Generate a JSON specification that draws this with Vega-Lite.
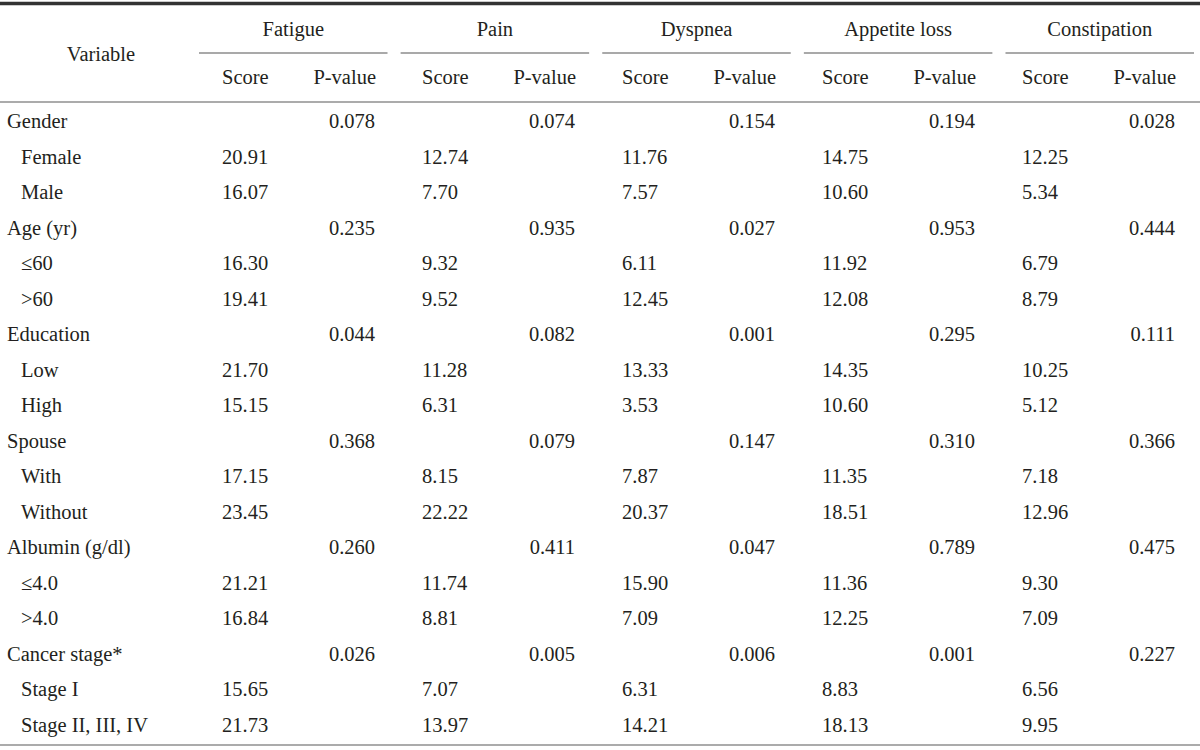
{
  "$schema": "https://vega.github.io/schema/vega-lite/v6.json",
  "width": 1200,
  "height": 750,
  "padding": 0,
  "autosize": {"type": "none"},
  "background": "#ffffff",
  "config": {
    "view": {"stroke": null},
    "axis": {"disable": true},
    "text": {"font": "Liberation Serif", "fontSize": 20.5, "color": "#231f20", "baseline": "middle"}
  },
  "datasets": {
    "tbl": [
      {"v": "Gender", "lvl": "h", "F_p": "0.078", "P_p": "0.074", "D_p": "0.154", "A_p": "0.194", "C_p": "0.028"},
      {"v": "Female", "lvl": "s", "F_s": "20.91", "P_s": "12.74", "D_s": "11.76", "A_s": "14.75", "C_s": "12.25"},
      {"v": "Male", "lvl": "s", "F_s": "16.07", "P_s": "7.70", "D_s": "7.57", "A_s": "10.60", "C_s": "5.34"},
      {"v": "Age (yr)", "lvl": "h", "F_p": "0.235", "P_p": "0.935", "D_p": "0.027", "A_p": "0.953", "C_p": "0.444"},
      {"v": "≤60", "lvl": "s", "F_s": "16.30", "P_s": "9.32", "D_s": "6.11", "A_s": "11.92", "C_s": "6.79"},
      {"v": ">60", "lvl": "s", "F_s": "19.41", "P_s": "9.52", "D_s": "12.45", "A_s": "12.08", "C_s": "8.79"},
      {"v": "Education", "lvl": "h", "F_p": "0.044", "P_p": "0.082", "D_p": "0.001", "A_p": "0.295", "C_p": "0.111"},
      {"v": "Low", "lvl": "s", "F_s": "21.70", "P_s": "11.28", "D_s": "13.33", "A_s": "14.35", "C_s": "10.25"},
      {"v": "High", "lvl": "s", "F_s": "15.15", "P_s": "6.31", "D_s": "3.53", "A_s": "10.60", "C_s": "5.12"},
      {"v": "Spouse", "lvl": "h", "F_p": "0.368", "P_p": "0.079", "D_p": "0.147", "A_p": "0.310", "C_p": "0.366"},
      {"v": "With", "lvl": "s", "F_s": "17.15", "P_s": "8.15", "D_s": "7.87", "A_s": "11.35", "C_s": "7.18"},
      {"v": "Without", "lvl": "s", "F_s": "23.45", "P_s": "22.22", "D_s": "20.37", "A_s": "18.51", "C_s": "12.96"},
      {"v": "Albumin (g/dl)", "lvl": "h", "F_p": "0.260", "P_p": "0.411", "D_p": "0.047", "A_p": "0.789", "C_p": "0.475"},
      {"v": "≤4.0", "lvl": "s", "F_s": "21.21", "P_s": "11.74", "D_s": "15.90", "A_s": "11.36", "C_s": "9.30"},
      {"v": ">4.0", "lvl": "s", "F_s": "16.84", "P_s": "8.81", "D_s": "7.09", "A_s": "12.25", "C_s": "7.09"},
      {"v": "Cancer stage*", "lvl": "h", "F_p": "0.026", "P_p": "0.005", "D_p": "0.006", "A_p": "0.001", "C_p": "0.227"},
      {"v": "Stage I", "lvl": "s", "F_s": "15.65", "P_s": "7.07", "D_s": "6.31", "A_s": "8.83", "C_s": "6.56"},
      {"v": "Stage II, III, IV", "lvl": "s", "F_s": "21.73", "P_s": "13.97", "D_s": "14.21", "A_s": "18.13", "C_s": "9.95"}
    ],
    "heads": [
      {"g": "Fatigue", "s": "Score", "p": "P-value"},
      {"g": "Pain", "s": "Score", "p": "P-value"},
      {"g": "Dyspnea", "s": "Score", "p": "P-value"},
      {"g": "Appetite loss", "s": "Score", "p": "P-value"},
      {"g": "Constipation", "s": "Score", "p": "P-value"}
    ],
    "lines": [{"ln": "top"}, {"ln": "head"}, {"ln": "bottom"}],
    "corner": [{"t": "Variable"}]
  },
  "layer": [
    {
      "data": {"name": "lines"},
      "transform": [{"filter": {"field": "ln", "equal": "top"}}],
      "mark": {"type": "rule", "strokeWidth": 3.5, "color": "#333333"},
      "encoding": {
        "y": {"field": "ln", "type": "nominal", "scale": {"type": "point", "domain": ["top"], "range": [3.5, 3.5], "padding": 0}}
      }
    },
    {
      "data": {"name": "lines"},
      "transform": [{"filter": {"field": "ln", "oneOf": ["head", "bottom"]}}],
      "mark": {"type": "rule", "strokeWidth": 1.5, "color": "#8f8f8f"},
      "encoding": {
        "y": {"field": "ln", "type": "nominal", "scale": {"type": "point", "domain": ["head", "bottom"], "range": [102, 745], "padding": 0}}
      }
    },
    {
      "data": {"name": "heads"},
      "mark": {"type": "rule", "strokeWidth": 1.2, "color": "#555555"},
      "encoding": {
        "x": {"field": "g", "type": "nominal", "bandPosition": 0, "scale": {"type": "band", "domain": ["Fatigue", "Pain", "Dyspnea", "Appetite loss", "Constipation"], "range": [199, 1194], "paddingInner": 0.065, "paddingOuter": 0}},
        "x2": {"field": "g", "bandPosition": 1},
        "y": {"datum": "under", "type": "nominal", "scale": {"type": "point", "domain": ["under"], "range": [53, 53], "padding": 0}}
      }
    },
    {
      "data": {"name": "heads"},
      "mark": {"type": "text", "align": "center"},
      "encoding": {
        "text": {"field": "g", "type": "nominal"},
        "x": {"field": "g", "type": "nominal", "bandPosition": 0.5, "scale": {"type": "band", "domain": ["Fatigue", "Pain", "Dyspnea", "Appetite loss", "Constipation"], "range": [199, 1194], "paddingInner": 0.065, "paddingOuter": 0}},
        "y": {"datum": "title", "type": "nominal", "scale": {"type": "point", "domain": ["title"], "range": [29.5, 29.5], "padding": 0}}
      }
    },
    {
      "data": {"name": "heads"},
      "mark": {"type": "text", "align": "left"},
      "encoding": {
        "text": {"field": "s", "type": "nominal"},
        "x": {"field": "g", "type": "nominal", "scale": {"type": "point", "domain": ["Fatigue", "Pain", "Dyspnea", "Appetite loss", "Constipation"], "range": [222, 1022], "padding": 0}},
        "y": {"datum": "sub", "type": "nominal", "scale": {"type": "point", "domain": ["sub"], "range": [78, 78], "padding": 0}}
      }
    },
    {
      "data": {"name": "heads"},
      "mark": {"type": "text", "align": "right"},
      "encoding": {
        "text": {"field": "p", "type": "nominal"},
        "x": {"field": "g", "type": "nominal", "scale": {"type": "point", "domain": ["Fatigue", "Pain", "Dyspnea", "Appetite loss", "Constipation"], "range": [376, 1176], "padding": 0}},
        "y": {"datum": "sub", "type": "nominal", "scale": {"type": "point", "domain": ["sub"], "range": [78, 78], "padding": 0}}
      }
    },
    {
      "data": {"name": "corner"},
      "mark": {"type": "text", "align": "center"},
      "encoding": {
        "text": {"field": "t", "type": "nominal"},
        "x": {"field": "t", "type": "nominal", "scale": {"type": "point", "domain": ["Variable"], "range": [101, 101], "padding": 0}},
        "y": {"field": "t", "type": "nominal", "scale": {"type": "point", "domain": ["Variable"], "range": [54.5, 54.5], "padding": 0}}
      }
    },
    {
      "data": {"name": "tbl"},
      "mark": {"type": "text", "align": "left"},
      "encoding": {
        "text": {"field": "v", "type": "nominal"},
        "x": {"field": "lvl", "type": "nominal", "scale": {"type": "point", "domain": ["h", "s"], "range": [7, 21], "padding": 0}},
        "y": {"field": "v", "type": "nominal", "sort": null, "scale": {"type": "point", "range": [122, 726], "padding": 0}}
      }
    },
    {
      "data": {"name": "tbl"},
      "transform": [
        {"fold": ["F_s", "P_s", "D_s", "A_s", "C_s"], "as": ["key", "val"]},
        {"filter": {"field": "val", "valid": true}}
      ],
      "mark": {"type": "text", "align": "left"},
      "encoding": {
        "text": {"field": "val", "type": "nominal"},
        "x": {"field": "key", "type": "nominal", "scale": {"type": "point", "domain": ["F_s", "P_s", "D_s", "A_s", "C_s"], "range": [222, 1022], "padding": 0}},
        "y": {"field": "v", "type": "nominal", "scale": {"type": "point", "domain": ["Gender", "Female", "Male", "Age (yr)", "≤60", ">60", "Education", "Low", "High", "Spouse", "With", "Without", "Albumin (g/dl)", "≤4.0", ">4.0", "Cancer stage*", "Stage I", "Stage II, III, IV"], "range": [122, 726], "padding": 0}}
      }
    },
    {
      "data": {"name": "tbl"},
      "transform": [
        {"fold": ["F_p", "P_p", "D_p", "A_p", "C_p"], "as": ["key", "val"]},
        {"filter": {"field": "val", "valid": true}}
      ],
      "mark": {"type": "text", "align": "right"},
      "encoding": {
        "text": {"field": "val", "type": "nominal"},
        "x": {"field": "key", "type": "nominal", "scale": {"type": "point", "domain": ["F_p", "P_p", "D_p", "A_p", "C_p"], "range": [375, 1175], "padding": 0}},
        "y": {"field": "v", "type": "nominal", "scale": {"type": "point", "domain": ["Gender", "Female", "Male", "Age (yr)", "≤60", ">60", "Education", "Low", "High", "Spouse", "With", "Without", "Albumin (g/dl)", "≤4.0", ">4.0", "Cancer stage*", "Stage I", "Stage II, III, IV"], "range": [122, 726], "padding": 0}}
      }
    }
  ],
  "resolve": {"scale": {"x": "independent", "y": "independent"}}
}
